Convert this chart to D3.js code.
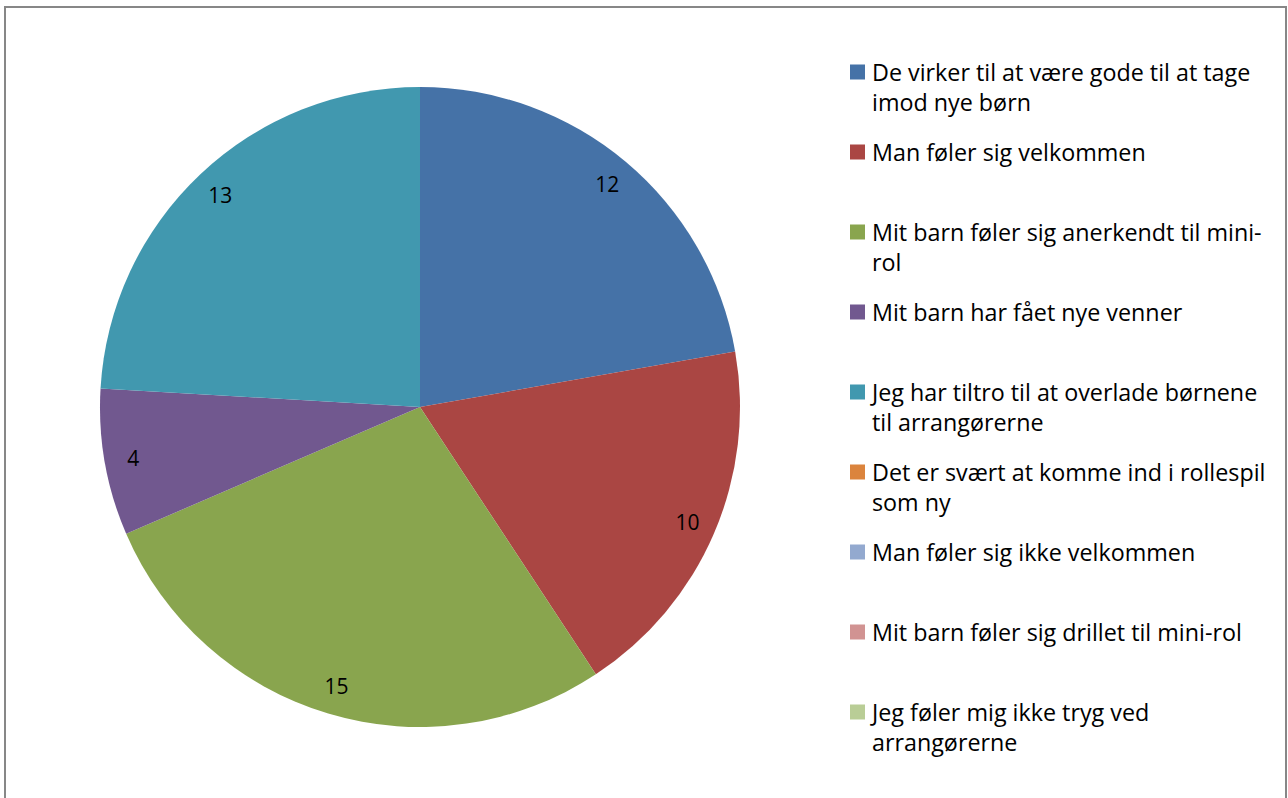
<!DOCTYPE html>
<html><head><meta charset="utf-8">
<script src="https://cdn.jsdelivr.net/npm/d3@7"></script>
<style>body{margin:0;background:#fff}svg{display:block}</style>
</head><body>
<svg id="c" width="1288" height="798"></svg>
<script>
const categories = [
  "De virker til at være gode til at tage imod nye børn",
  "Man føler sig velkommen",
  "Mit barn føler sig anerkendt til mini-rol",
  "Mit barn har fået nye venner",
  "Jeg har tiltro til at overlade børnene til arrangørerne",
  "Det er svært at komme ind i rollespil som ny",
  "Man føler sig ikke velkommen",
  "Mit barn føler sig drillet til mini-rol",
  "Jeg føler mig ikke tryg ved arrangørerne"
];
const legendLines = [
  ["De virker til at være gode til at tage", "imod nye børn"],
  ["Man føler sig velkommen"],
  ["Mit barn føler sig anerkendt til mini-", "rol"],
  ["Mit barn har fået nye venner"],
  ["Jeg har tiltro til at overlade børnene", "til arrangørerne"],
  ["Det er svært at komme ind i rollespil", "som ny"],
  ["Man føler sig ikke velkommen"],
  ["Mit barn føler sig drillet til mini-rol"],
  ["Jeg føler mig ikke tryg ved", "arrangørerne"]
];
const values = [12, 10, 15, 4, 13, 0, 0, 0, 0];
const colors = ["#4572A7","#AA4643","#89A54E","#71588F","#4198AF","#DB843D","#93A9CF","#D19392","#B9CD96"];

const svg = d3.select("#c");
const font = "'Open Sans', sans-serif";

svg.append("rect").attr("x",5).attr("y",7).attr("width",1281).attr("height",800)
  .attr("fill","#fff").attr("stroke","#878787").attr("stroke-width",2);

const cx = 420, cy = 407, r = 320;
const pie = d3.pie().sort(null).value(d => d)(values);
const arc = d3.arc().innerRadius(0).outerRadius(r);
const labelArc = d3.arc().innerRadius(r*0.91).outerRadius(r*0.91);
const color = d3.scaleOrdinal().domain(d3.range(values.length)).range(colors);

const g = svg.append("g").attr("transform",`translate(${cx},${cy})`);
g.selectAll("path").data(pie).join("path")
  .attr("d", arc).attr("fill", (d,i) => color(i));

g.selectAll("text.lbl").data(pie.filter(d => d.value > 0)).join("text")
  .attr("class","lbl")
  .attr("transform", d => `translate(${labelArc.centroid(d)})`)
  .attr("text-anchor","middle").attr("dominant-baseline","central")
  .attr("font-family", font).attr("font-size", 21).attr("fill","#000")
  .text(d => d.value);

const lg = svg.append("g");
const item = lg.selectAll("g").data(categories).join("g")
  .attr("transform", (d,i) => `translate(850,${72 + i*80})`);
item.append("rect").attr("x",0).attr("y",-7.5).attr("width",15).attr("height",15)
  .attr("fill", (d,i) => color(i));
item.each(function(d,i){
  const t = d3.select(this).append("text").attr("font-family", font).attr("font-size", 23.3).attr("fill","#000");
  legendLines[i].forEach((ln,j) => {
    t.append("tspan").attr("x",22).attr("y", j*30).attr("dominant-baseline","central").text(ln);
  });
});
</script>
</body></html>
